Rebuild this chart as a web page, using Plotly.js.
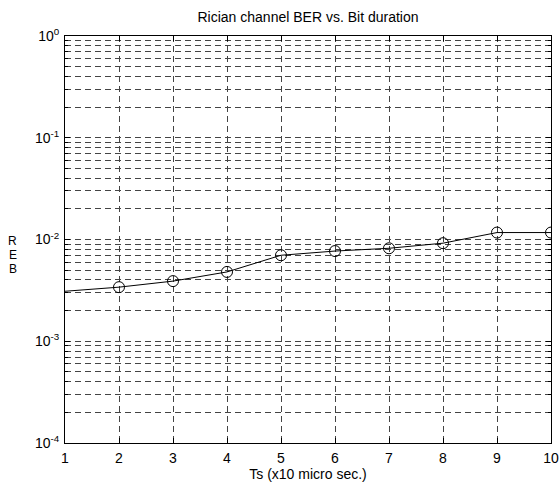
<!DOCTYPE html>
<html>
<head>
<meta charset="utf-8">
<script src="https://cdn.plot.ly/plotly-3.0.1.min.js"></script>
<style>html,body{margin:0;padding:0;background:#fff;}#chart{width:559px;height:488px;}</style>
</head>
<body>
<div id="chart"></div>
<script>
var ts = [1, 2, 3, 4, 5, 6, 7, 8, 9, 10];
var ber = [0.0031, 0.0034, 0.0039, 0.0048, 0.0070, 0.0077, 0.0082, 0.0092, 0.0117, 0.0117];
var xTicks = [1, 2, 3, 4, 5, 6, 7, 8, 9, 10];
var yTickVals = [1e-4, 1e-3, 1e-2, 1e-1, 1];
var yTickText = ['10<sup>-4</sup>', '10<sup>-3</sup>', '10<sup>-2</sup>', '10<sup>-1</sup>', '10<sup>0</sup>'];
var titleText = 'Rician channel BER vs. Bit duration';
var xTitle = 'Ts (x10 micro sec.)';
var yLabelLetters = ['R', 'E', 'B'];

var minorVals = [];
for (var d = -4; d < 0; d++) {
  for (var m = 2; m <= 9; m++) minorVals.push(m * Math.pow(10, d));
}

var font = {family: 'Liberation Sans, Arial, sans-serif', size: 14, color: '#000'};
var letterFont = {family: 'Liberation Sans, Arial, sans-serif', size: 12, color: '#000'};
var gridDash = '6px,4px';
var gridColor = '#444';

var traces = [
  {x: ts, y: ber, mode: 'lines', line: {color: '#000', width: 1}, hoverinfo: 'skip', showlegend: false},
  {x: ts.slice(1), y: ber.slice(1), mode: 'markers',
   marker: {symbol: 'circle-open', size: 11, color: '#000', line: {width: 1, color: '#000'}},
   showlegend: false}
];

var letterY = [0.496, 0.462, 0.428];
var annotations = yLabelLetters.map(function (ch, i) {
  return {text: ch, xref: 'paper', yref: 'paper', x: -0.107, y: letterY[i], xanchor: 'center', yanchor: 'middle',
          showarrow: false, font: letterFont, borderpad: 0};
});

var layout = {
  width: 559, height: 488,
  margin: {l: 65, r: 8, t: 36, b: 45},
  paper_bgcolor: '#fff', plot_bgcolor: '#fff',
  font: font,
  showlegend: false,
  title: {text: titleText, font: font, x: 0.551, xanchor: 'center', y: 0.964, yanchor: 'middle'},
  xaxis: {
    range: [1, 10], tickmode: 'array', tickvals: xTicks,
    ticks: 'inside', ticklen: 5, tickcolor: '#000', mirror: 'ticks',
    showline: true, linecolor: '#000', linewidth: 1,
    showgrid: true, gridcolor: gridColor, griddash: gridDash, gridwidth: 1,
    zeroline: false, tickfont: font, ticklabelstandoff: 2,
    title: {text: xTitle, font: font, standoff: 4}
  },
  yaxis: {
    type: 'log', range: [-4, 0], tickmode: 'array', tickvals: yTickVals, ticktext: yTickText,
    ticks: 'inside', ticklen: 5, tickcolor: '#000', mirror: 'ticks',
    showline: true, linecolor: '#000', linewidth: 1,
    showgrid: true, gridcolor: gridColor, griddash: gridDash, gridwidth: 1,
    zeroline: false, tickfont: font, ticklabelstandoff: 2,
    minor: {tickmode: 'array', tickvals: minorVals, ticks: 'inside', ticklen: 3, tickcolor: '#000',
            showgrid: true, gridcolor: gridColor, griddash: gridDash, gridwidth: 1}
  },
  annotations: annotations
};

Plotly.newPlot('chart', traces, layout, {displayModeBar: false, staticPlot: true});
</script>
</body>
</html>
